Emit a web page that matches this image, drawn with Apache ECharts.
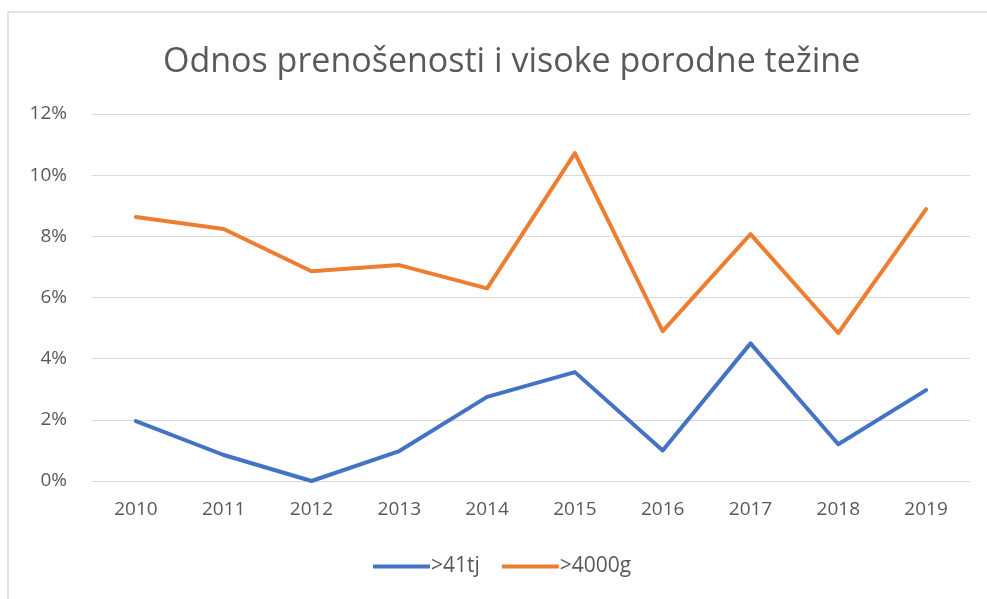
<!DOCTYPE html>
<html>
<head>
<meta charset="utf-8">
<script src="https://cdn.jsdelivr.net/npm/echarts@6/dist/echarts.min.js"></script>
<style>
  html, body { margin: 0; padding: 0; background: #fff; }
  #chart { width: 987px; height: 599px; }
</style>
</head>
<body>
<div id="chart"></div>
<script>
// data (percent)
const years = ['2010', '2011', '2012', '2013', '2014', '2015', '2016', '2017', '2018', '2019'];
const over41tj = [1.96, 0.85, 0.0, 0.98, 2.75, 3.56, 1.0, 4.5, 1.2, 2.97];
const over4000g = [8.63, 8.24, 6.86, 7.06, 6.3, 10.72, 4.9, 8.07, 4.84, 8.89];
const seriesNames = ['>41tj', '>4000g'];

const chart = echarts.init(document.getElementById('chart'));

chart.setOption({
  animation: false,
  textStyle: { fontFamily: 'Open Sans' },
  graphic: [
    {
      type: 'rect',
      shape: { x: 8, y: 12, width: 1000, height: 600 },
      style: { fill: 'none', stroke: '#d9d9d9', lineWidth: 1.5 },
      silent: true,
    },
  ],
  title: {
    text: 'Odnos prenošenosti i visoke porodne težine',
    left: 158,
    top: 40,
    textStyle: { fontSize: 34, fontWeight: 'normal', color: '#595959' },
  },
  legend: {
    data: seriesNames,
    bottom: 17,
    left: 368,
    itemWidth: 57,
    itemHeight: 4,
    itemGap: 22,
    icon: 'rect',
    textStyle: { fontSize: 21, color: '#595959', padding: [0, 0, 0, -4] },
  },
  grid: { left: 92, right: 17, top: 114, bottom: 118 },
  xAxis: {
    type: 'category',
    data: years,
    boundaryGap: true,
    axisLine: { lineStyle: { color: '#d9d9d9', width: 1 } },
    axisTick: { show: false },
    axisLabel: { fontSize: 19, color: '#595959', margin: 19 },
  },
  yAxis: {
    type: 'value',
    min: 0,
    max: 12,
    interval: 2,
    axisLine: { show: false },
    axisTick: { show: false },
    splitLine: { lineStyle: { color: '#d9d9d9', width: 1 } },
    axisLabel: { fontSize: 19, color: '#595959', margin: 25, formatter: '{value}%' },
  },
  series: [
    {
      name: seriesNames[0],
      type: 'line',
      data: over41tj,
      showSymbol: false,
      symbol: 'none',
      lineStyle: { color: '#4472C4', width: 4, cap: 'round', join: 'round' },
      itemStyle: { color: '#4472C4' },
    },
    {
      name: seriesNames[1],
      type: 'line',
      data: over4000g,
      showSymbol: false,
      symbol: 'none',
      lineStyle: { color: '#ED7D31', width: 4, cap: 'round', join: 'round' },
      itemStyle: { color: '#ED7D31' },
    },
  ],
});
</script>
</body>
</html>
